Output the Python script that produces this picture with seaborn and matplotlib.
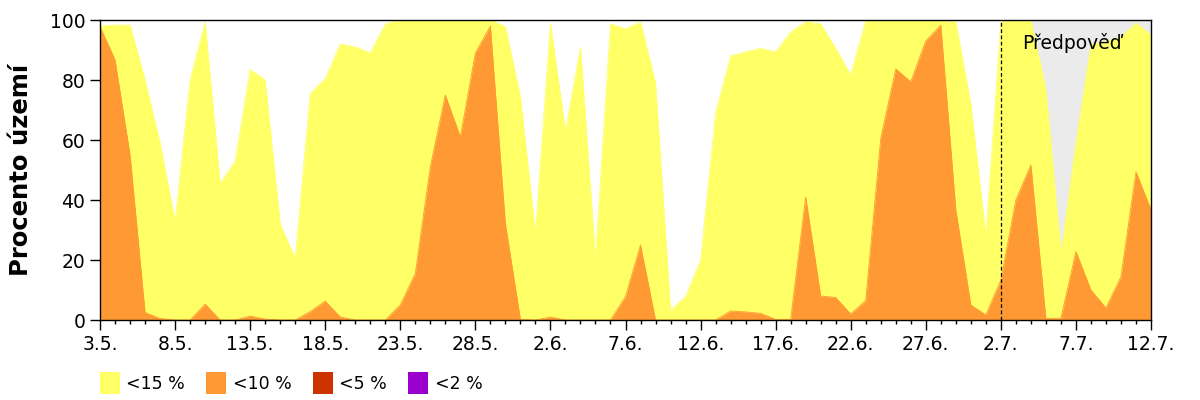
import numpy as np
import pandas as pd
import matplotlib
matplotlib.use("Agg")
import matplotlib.pyplot as plt
from matplotlib.patches import Patch
from matplotlib.ticker import MultipleLocator
import seaborn as sns

# Daily values, 3.5. .. 12.7.
days = list(range(71))
tick_labels = ["3.5.", "8.5.", "13.5.", "18.5.", "23.5.", "28.5.", "2.6.", "7.6.",
               "12.6.", "17.6.", "22.6.", "27.6.", "2.7.", "7.7.", "12.7."]

lt15 = [98, 98.3, 98.3, 80, 59, 33, 80, 99.4, 45.5, 53,
        83.5, 80, 32, 20.5, 75.5, 80.5, 92, 91, 89, 98.7,
        100, 100, 100, 100, 100, 100, 100, 97.8, 74.4, 29,
        99, 63, 91, 20.5, 98.7, 97, 99.4, 79, 3.3, 7.8,
        20, 69, 88, 89.4, 90.5, 89.4, 96, 99.4, 98.7, 90.5,
        81.7, 99.8, 100, 100, 100, 100, 100, 99.4, 72, 28,
        99.4, 100, 100, 76.7, 22.3, 59, 92, 92.8, 94.4, 99,
        95]

lt10 = [97.8, 86.7, 55, 2.5, 0.5, 0, 0, 5.3, 0, 0,
        1.3, 0.3, 0, 0, 2.8, 6.3, 1, 0, 0, 0,
        5, 15.5, 51, 75, 61, 89, 98, 32, 0.2, 0,
        1, 0, 0, 0, 0, 7.8, 25, 0, 0, 0,
        0, 0, 3, 2.7, 2.2, 0.2, 0.2, 41, 8, 7.5,
        2, 6.5, 60.5, 83.7, 79.4, 93, 98.3, 36.7, 5, 1.7,
        13.3, 40, 51.7, 0.5, 0.6, 22.8, 10, 4, 14.4, 49.4,
        36.7]

lt5 = [0] * 71
lt2 = [0] * 71

forecast_start = 60
legend_labels = ["<15 %", "<10 %", "<5 %", "<2 %"]
colors = ["#FFFF66", "#FF9933", "#CC3300", "#9900CC"]
forecast_text = "Předpověď"
ylabel = "Procento území"

sns.set_theme(style="ticks")
plt.rcParams["font.family"] = ["DejaVu Sans"]
plt.rcParams["text.color"] = "black"
plt.rcParams["axes.labelcolor"] = "black"
plt.rcParams["xtick.color"] = "black"
plt.rcParams["ytick.color"] = "black"

df = pd.DataFrame({"day": days, "lt15": lt15, "lt10": lt10, "lt5": lt5, "lt2": lt2})

fig = plt.figure(figsize=(12, 4), dpi=100)
ax = fig.add_axes([100 / 1200, 80 / 400, 1051 / 1200, 300 / 400])

# forecast background
fc = df[df["day"] >= forecast_start]
ax.fill_between(fc["day"], 0, 100, color="#EBEBEB", lw=0, zorder=0)

for col, c in zip(["lt15", "lt10", "lt5", "lt2"], colors):
    ax.fill_between(df["day"], 0, df[col], color=c, lw=0, zorder=1)
    if df[col].max() > 0:
        sns.lineplot(data=df, x="day", y=col, color=c, lw=0.6, ax=ax, zorder=2)

ax.axvline(forecast_start, color="black", lw=0.9, ls=(0, (3, 2)), zorder=3)
ax.text(61.4, 92.3, forecast_text, fontsize=13.5, va="center", ha="left", zorder=4)

ax.set_xlim(0, 70)
ax.set_ylim(0, 100)
ax.set_xticks(range(0, 71, 5))
ax.set_xticklabels(tick_labels)
ax.xaxis.set_minor_locator(MultipleLocator(1))
ax.set_yticks(range(0, 101, 20))
ax.tick_params(axis="both", which="major", labelsize=13.5, length=7, width=1,
               color="black", labelcolor="black", direction="out")
ax.tick_params(axis="x", which="minor", length=3, width=1, color="black")
ax.set_xlabel("")
ax.set_ylabel(ylabel, fontsize=17.5, fontweight="bold", labelpad=12)
for s in ax.spines.values():
    s.set_visible(True)
    s.set_color("black")
    s.set_linewidth(1)

handles = [Patch(facecolor=c, edgecolor="none") for c in colors]
fig.legend(handles, legend_labels, loc="center left", bbox_to_anchor=(100 / 1200, 17 / 400),
           ncol=4, frameon=False, fontsize=12.5, handlelength=1.15, handleheight=1.5,
           handletextpad=0.35, columnspacing=1.25, borderpad=0, borderaxespad=0)

fig.savefig("out.png", dpi=100)
